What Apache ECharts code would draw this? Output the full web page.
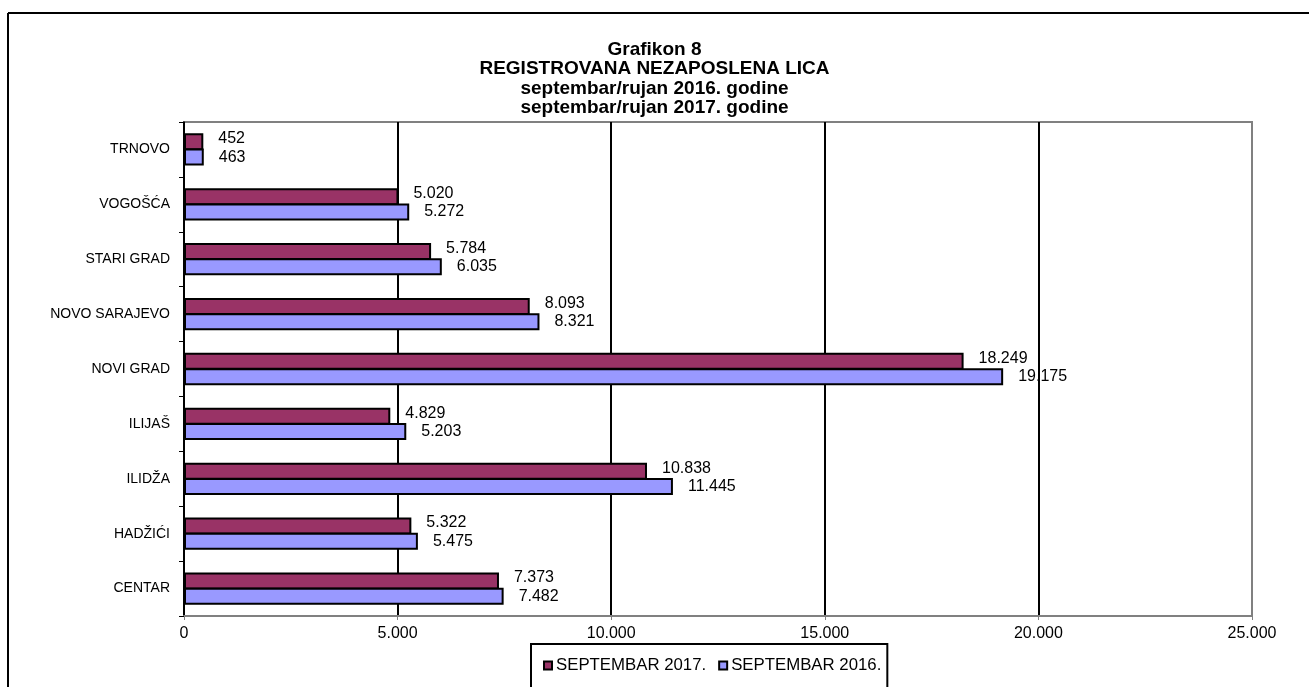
<!DOCTYPE html>
<html>
<head>
    <meta charset="UTF-8">
    <title>Grafikon 8</title>
    <script src="https://cdn.jsdelivr.net/npm/echarts@6/dist/echarts.min.js"></script>
    <style>
        html, body { margin: 0; padding: 0; background: #fff; }
    </style>
</head>
<body>
    <div id="main" style="width: 1309px;height:687px;"></div>
    <script>
        // podaci
        var opstine = ['TRNOVO', 'VOGOŠĆA', 'STARI GRAD', 'NOVO SARAJEVO', 'NOVI GRAD', 'ILIJAŠ', 'ILIDŽA', 'HADŽIĆI', 'CENTAR'];
        var sep2017 = [452, 5020, 5784, 8093, 18249, 4829, 10838, 5322, 7373];
        var sep2016 = [463, 5272, 6035, 8321, 19175, 5203, 11445, 5475, 7482];
        var xTicks = [0, 5000, 10000, 15000, 20000, 25000];

        function fmt(v) {
            return String(v).replace(/\B(?=(\d{3})+(?!\d))/g, '.');
        }

        var font = '"Liberation Sans", Arial, sans-serif';
        var chart = echarts.init(document.getElementById('main'));

        chart.setOption({
            animation: false,
            textStyle: { fontFamily: font },
            title: {
                text: 'Grafikon 8\nREGISTROVANA NEZAPOSLENA LICA\nseptembar/rujan 2016. godine\nseptembar/rujan 2017. godine',
                left: 'center',
                top: 35,
                textStyle: { fontSize: 19, fontWeight: 'bold', color: '#000', lineHeight: 19.5, fontFamily: font }
            },
            legend: {
                data: ['SEPTEMBAR 2017.', 'SEPTEMBAR 2016.'],
                left: 531,
                top: 644,
                padding: [13, 6, 16, 12],
                borderColor: '#000',
                borderWidth: 2,
                icon: 'rect',
                itemWidth: 8,
                itemHeight: 8,
                itemGap: 12,
                textStyle: { fontSize: 16.8, color: '#000', padding: [0, 0, 0, -1] }
            },
            graphic: [
                { type: 'line', shape: { x1: 8, y1: 13, x2: 8, y2: 700 }, style: { stroke: '#000', lineWidth: 2 } },
                { type: 'line', shape: { x1: 8, y1: 13, x2: 1320, y2: 13 }, style: { stroke: '#000', lineWidth: 2 } }
            ],
            grid: {
                left: 184,
                right: 57,
                top: 122,
                bottom: 71,
                show: true,
                borderColor: '#808080',
                borderWidth: 2
            },
            xAxis: {
                type: 'value',
                min: xTicks[0],
                max: xTicks[xTicks.length - 1],
                interval: 5000,
                axisLine: { show: true, lineStyle: { color: '#808080', width: 2 } },
                axisTick: { show: true, length: 4, lineStyle: { color: '#808080' } },
                axisLabel: { formatter: fmt, fontSize: 16, color: '#000', margin: 10 },
                splitLine: { show: true, showMaxLine: false, lineStyle: { color: '#000', width: 2 } }
            },
            yAxis: {
                type: 'category',
                data: opstine,
                inverse: true,
                axisLine: { show: true, lineStyle: { color: '#000', width: 1.5 } },
                axisTick: { show: true, length: 5, lineStyle: { color: '#000' } },
                axisLabel: { fontSize: 14, color: '#000', margin: 14 },
                splitLine: { show: false }
            },
            series: [
                {
                    name: 'SEPTEMBAR 2017.',
                    type: 'bar',
                    data: sep2017,
                    barWidth: 17,
                    barGap: '-10%',
                    itemStyle: { color: '#993366', borderColor: '#000', borderWidth: 2 },
                    label: {
                        show: true, position: 'right', distance: 15, offset: [0, -3],
                        fontSize: 16, color: '#000', formatter: function (p) { return fmt(p.value); }
                    }
                },
                {
                    name: 'SEPTEMBAR 2016.',
                    type: 'bar',
                    data: sep2016,
                    barWidth: 17,
                    barGap: '-10%',
                    itemStyle: { color: '#9999FF', borderColor: '#000', borderWidth: 2 },
                    label: {
                        show: true, position: 'right', distance: 15,
                        fontSize: 16, color: '#000', formatter: function (p) { return fmt(p.value); }
                    }
                }
            ]
        });
    </script>
</body>
</html>
